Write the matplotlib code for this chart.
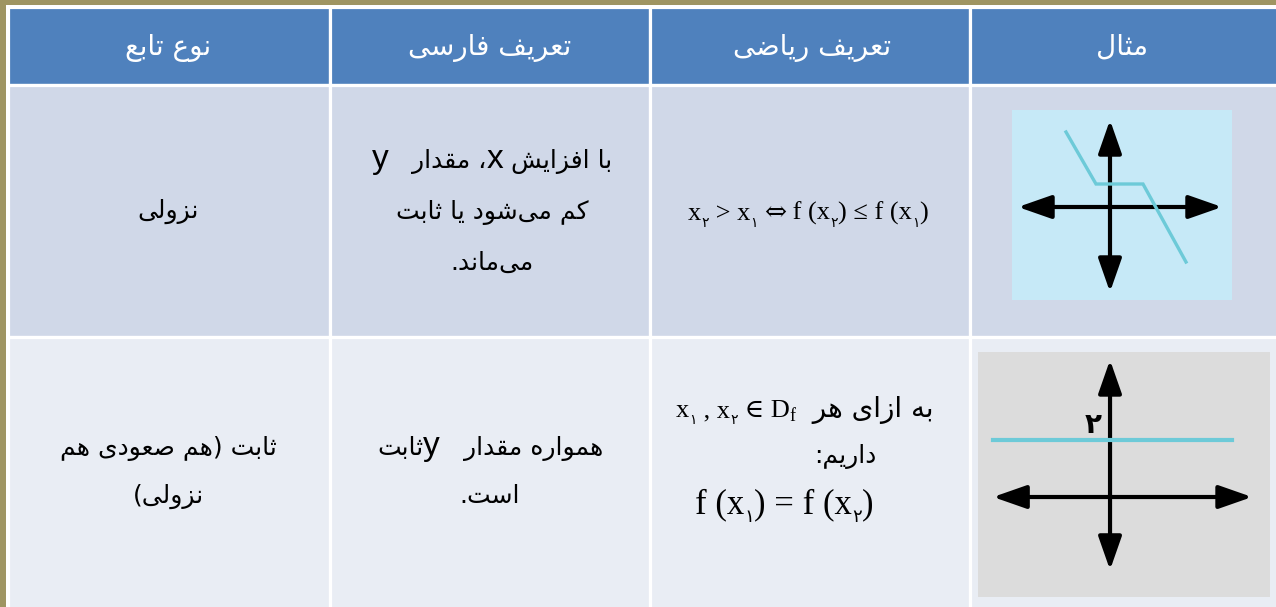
import matplotlib
matplotlib.use('Agg')
import matplotlib.pyplot as plt
from matplotlib.patches import Rectangle, FancyArrowPatch

W, H = 1276, 607

# ---------------------------------------------------------------
# table content (visual left -> right columns)
# ---------------------------------------------------------------
headers = ['نوع تابع', 'تعریف فارسی', 'تعریف ریاضی', 'مثال']

# each cell = list of lines, each line = list of runs in logical (RTL) order
# run = ('fa', text) or ('ltr', [(text, style), ...])
name_cells = [
    [[('fa', 'نزولی')]],
    [[('fa', 'ثابت (هم صعودی هم')], [('fa', 'نزولی)')]],
]
desc_cells = [
    [[('fa', 'با افزایش '), ('ltr', [('x', 'lat')]), ('fa', '، مقدار   '), ('ltr', [('y', 'lat')])],
     [('fa', 'کم می\u200cشود یا ثابت')],
     [('fa', 'می\u200cماند.')]],
    [[('fa', 'همواره مقدار   '), ('ltr', [('y', 'lat')]), ('fa', 'ثابت')],
     [('fa', 'است.')]],
]
math_cells = [
    [[('ltr', [('x', 'ser'), ('۲', 'sub'), (' > x', 'ser'), ('۱', 'sub'), (' ', 'ser'), ('⇔', 'op'),
               (' f (x', 'ser'), ('۲', 'sub'), (') ≤ f (x', 'ser'), ('۱', 'sub'), (')', 'ser')])]],
    [[('fa', 'به ازای هر  '), ('ltr', [('x', 'ser'), ('۱', 'sub'), (' , x', 'ser'), ('۲', 'sub'),
                                      (' ∈ D', 'ser'), ('f', 'fsub')])],
     [('fa', 'داریم:')],
     [('ltr', [('f (x', 'big'), ('۱', 'bsub'), (') = f (x', 'big'), ('۲', 'bsub'), (')', 'big')])]],
]

# example graphs (local units, origin where the axes cross)
dec_x = [-2.2, -0.7, 1.65, 3.8]
dec_y = [3.75, 1.15, 1.15, -2.75]
const_x = [-4.1, 4.28]
const_y = [2, 2]
const_label = '۲'

# ---------------------------------------------------------------
# crude persian shaping (matplotlib has no arabic shaping)
# isolated, final, initial, medial
# ---------------------------------------------------------------
FORMS = {
    'ا': ('\uFE8D', '\uFE8E', None, None),
    'ب': ('\uFE8F', '\uFE90', '\uFE91', '\uFE92'),
    'ت': ('\uFE95', '\uFE96', '\uFE97', '\uFE98'),
    'ث': ('\uFE99', '\uFE9A', '\uFE9B', '\uFE9C'),
    'د': ('\uFEA9', '\uFEAA', None, None),
    'ر': ('\uFEAD', '\uFEAE', None, None),
    'ز': ('\uFEAF', '\uFEB0', None, None),
    'س': ('\uFEB1', '\uFEB2', '\uFEB3', '\uFEB4'),
    'ش': ('\uFEB5', '\uFEB6', '\uFEB7', '\uFEB8'),
    'ص': ('\uFEB9', '\uFEBA', '\uFEBB', '\uFEBC'),
    'ض': ('\uFEBD', '\uFEBE', '\uFEBF', '\uFEC0'),
    'ع': ('\uFEC9', '\uFECA', '\uFECB', '\uFECC'),
    'ف': ('\uFED1', '\uFED2', '\uFED3', '\uFED4'),
    'ق': ('\uFED5', '\uFED6', '\uFED7', '\uFED8'),
    'ک': ('\uFB8E', '\uFB8F', '\uFB90', '\uFB91'),
    'ل': ('\uFEDD', '\uFEDE', '\uFEDF', '\uFEE0'),
    'م': ('\uFEE1', '\uFEE2', '\uFEE3', '\uFEE4'),
    'ن': ('\uFEE5', '\uFEE6', '\uFEE7', '\uFEE8'),
    'ه': ('\uFEE9', '\uFEEA', '\uFEEB', '\uFEEC'),
    'و': ('\uFEED', '\uFEEE', None, None),
    'ی': ('\uFBFC', '\uFBFD', '\uFBFE', '\uFBFF'),
}
MIRROR = {'(': ')', ')': '('}


def shape_fa(s):
    out = []
    for i, c in enumerate(s):
        f = FORMS.get(c)
        if f is None:
            if c != '\u200c':
                out.append(MIRROR.get(c, c))
            continue
        prev = s[i - 1] if i > 0 else ''
        nxt = s[i + 1] if i + 1 < len(s) else ''
        jp = prev in FORMS and FORMS[prev][2] is not None
        jn = f[2] is not None and nxt in FORMS
        if jp and jn:
            out.append(f[3])
        elif jp:
            out.append(f[1])
        elif jn:
            out.append(f[2])
        else:
            out.append(f[0])
    return ''.join(reversed(out))


SERIF = ['Liberation Serif', 'DejaVu Serif']
STYLES = {
    'fa':   dict(family='DejaVu Sans', size=18, dy=0),
    'fa2':  dict(family='DejaVu Sans', size=20, dy=0),
    'head': dict(family='DejaVu Sans', size=20, dy=0),
    'lat':  dict(family='Liberation Sans', size=24, dy=0),
    'ser':  dict(family=SERIF, size=19, dy=0),
    'op':   dict(family='DejaVu Serif', size=19, dy=0),
    'sub':  dict(family='DejaVu Sans', size=10, dy=7),
    'fsub': dict(family='Liberation Serif', size=13, dy=4),
    'big':  dict(family=SERIF, size=25, dy=0),
    'bsub': dict(family='DejaVu Sans', size=13, dy=9),
}

fig = plt.figure(figsize=(W / 100, H / 100), dpi=100)
fig.patch.set_facecolor('#9F9562')
ax = fig.add_axes([0, 0, 1, 1])
ax.set_xlim(0, W)
ax.set_ylim(H, 0)
ax.axis('off')
renderer = fig.canvas.get_renderer()


def draw_line(cx, y, runs, color='black', fa_style='fa'):
    pieces = []
    for kind, val in reversed(runs):
        if kind == 'fa':
            pieces.append((shape_fa(val), fa_style))
        else:
            pieces.extend(val)
    arts = []
    total = 0
    for txt, st in pieces:
        s = STYLES[st]
        t = ax.text(0, y + s['dy'], txt, family=s['family'], fontsize=s['size'],
                    color=color, ha='left', va='baseline')
        w = t.get_window_extent(renderer).width
        arts.append((t, w))
        total += w
    x = cx - total / 2
    for t, w in arts:
        t.set_x(x)
        x += w


# layout (pixels)
col_edges = [7.5, 330, 650, 970, 1300]
row_edges = [6.5, 85, 337, 640]
fills = ['#4F81BD', '#D0D8E8', '#E9EDF4']

ax.add_patch(Rectangle((6, 5), W, H, facecolor='white', edgecolor='none'))
for r in range(3):
    for c in range(4):
        ax.add_patch(Rectangle((col_edges[c], row_edges[r]), col_edges[c + 1] - col_edges[c],
                               row_edges[r + 1] - row_edges[r], facecolor=fills[r],
                               edgecolor='white', lw=2.3))

col_mid = [168, 490, 812, 1122]
for c, h in enumerate(headers):
    draw_line(col_mid[c], 55, [('fa', h)], color='white', fa_style='head')

# row 1
draw_line(col_mid[0], 218, name_cells[0][0])
for line, y in zip(desc_cells[0], [168, 219, 270]):
    draw_line(col_mid[1] + 2, y, line)
draw_line(808, 220, math_cells[0][0])

# row 2
for line, y in zip(name_cells[1], [455, 503]):
    draw_line(col_mid[0], y, line)
for line, y in zip(desc_cells[1], [455, 503]):
    draw_line(col_mid[1], y, line)
math_pos = [(805, 417), (845, 463), (784, 513)]
for i, (line, (cx, y)) in enumerate(zip(math_cells[1], math_pos)):
    draw_line(cx, y, line, fa_style='fa2' if i == 0 else 'fa')


def arrows(gax, xa, xb, ya, yb):
    st = '<|-|>,head_length=1.2,head_width=0.42'
    gax.add_patch(FancyArrowPatch((xa, 0), (xb, 0), arrowstyle=st, mutation_scale=17,
                                  lw=3, color='black', shrinkA=0, shrinkB=0))
    gax.add_patch(FancyArrowPatch((0, ya), (0, yb), arrowstyle=st, mutation_scale=17,
                                  lw=3, color='black', shrinkA=0, shrinkB=0))


# example 1 (decreasing)
ax.add_patch(Rectangle((1012, 110), 220, 190, facecolor='#C6E9F7', edgecolor='none'))
g1 = fig.add_axes([1012 / W, 1 - 300 / H, 220 / W, 190 / H])
g1.set_xlim(-4.9, 6.1)
g1.set_ylim(-4.65, 4.85)
g1.axis('off')
g1.plot(dec_x, dec_y, color='#6DCAD8', lw=2.4, solid_joinstyle='miter')
arrows(g1, -4.6, 5.6, -4.25, 4.35)

# example 2 (constant)
ax.add_patch(Rectangle((978, 352), 292, 245, facecolor='#DCDCDC', edgecolor='none'))
g2 = fig.add_axes([978 / W, 1 - 597 / H, 292 / W, 245 / H])
g2.set_xlim(-4.63, 5.61)
g2.set_ylim(-3.51, 5.09)
g2.axis('off')
g2.plot(const_x, const_y, color='#6DCAD8', lw=3)
arrows(g2, -4.1, 4.98, -2.56, 4.81)
g2.text(-0.6, 2.25, const_label, family='DejaVu Sans', fontweight='bold', fontsize=20,
        ha='center', va='baseline', color='black')

fig.savefig('out.png', dpi=100, facecolor=fig.get_facecolor())
